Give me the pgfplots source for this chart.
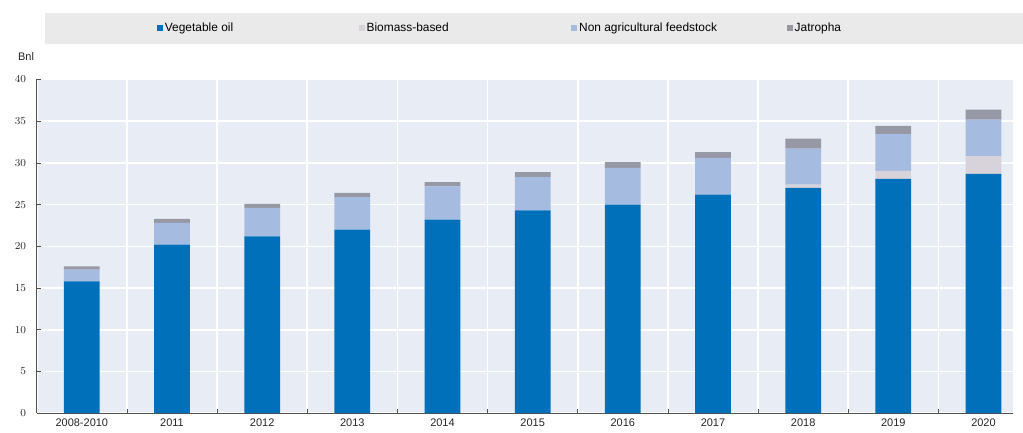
\documentclass[border=0pt]{standalone}
\usepackage{fontspec}
\setmainfont{Liberation Sans}
\usepackage{pgfplots}
\pgfplotsset{compat=1.18}
\definecolor{veg}{RGB}{0,112,186}
\definecolor{bio}{RGB}{216,210,218}
\definecolor{nonag}{RGB}{166,187,224}
\definecolor{jat}{RGB}{150,153,165}
\definecolor{bgc}{RGB}{232,236,245}
\definecolor{legbg}{RGB}{234,234,234}
\definecolor{axc}{RGB}{80,80,80}
\pgfplotstableread{
x veg bio nonag jat
0 15.8 0.0 1.4 0.4
1 20.2 0.0 2.6 0.5
2 21.2 0.0 3.4 0.5
3 22.0 0.0 3.9 0.5
4 23.2 0.0 4.0 0.5
5 24.3 0.0 4.0 0.6
6 25.0 0.0 4.4 0.7
7 26.2 0.0 4.4 0.7
8 27.0 0.4 4.3 1.2
9 28.1 0.95 4.4 1.0
10 28.7 2.1 4.4 1.2
}\datatab
\begin{document}
\begin{tikzpicture}
\begin{axis}[
  scale only axis, width=737.25pt, height=252pt,
  xmin=-0.5, xmax=10.33, ymin=0, ymax=40,
  ybar stacked, bar width=27pt,
  clip=false,
  axis background/.style={fill=bgc},
  axis x line*=bottom, axis y line*=left,
  axis line style={draw=axc, line width=0.7pt, -},
  xtick={0,...,10},
  xticklabels={2008-2010,2011,2012,2013,2014,2015,2016,2017,2018,2019,2020},
  major x tick style={draw=none},
  minor xtick={-0.5,0.5,...,10.5},
  minor x tick style={draw=axc, line width=0.6pt},
  minor tick length=3.5pt,
  xminorgrids, minor x grid style={white, line width=1.2pt},
  ytick={0,5,...,40},
  ymajorgrids, major y grid style={white, line width=1.2pt},
  major y tick style={draw=axc, line width=0.6pt},
  major tick length=3pt,
  tick align=inside,
  tick label style={font=\fontsize{8.3}{10}\selectfont, text=black!85},
  yticklabel style={xshift=-4.5pt},
  xticklabel style={yshift=-1pt},
  legend columns=4,
  legend style={at={(rel axis cs:0.123,1.153)}, anchor=west, draw=none, fill=none,
    inner xsep=0pt, inner ysep=0pt, nodes={inner xsep=1.5pt},
    font=\fontsize{9}{11}\selectfont},
  legend image code/.code={\fill[#1] (0pt,-2.2pt) rectangle (4.4pt,2.2pt);},
]
\fill[legbg] (rel axis cs:0.008,1.107) rectangle (rel axis cs:1.01,1.199);
\node[font=\fontsize{8.3}{10}\selectfont, text=black!85] at (rel axis cs:-0.011,1.068) {Bnl};
\addplot[fill=veg, draw=none] table[x=x, y=veg] {\datatab};
\addlegendentry{\makebox[144.85pt][l]{Vegetable oil}}
\addplot[fill=bio, draw=none] table[x=x, y=bio] {\datatab};
\addlegendentry{\makebox[153.1pt][l]{Biomass-based}}
\addplot[fill=nonag, draw=none] table[x=x, y=nonag] {\datatab};
\addlegendentry{\makebox[155.35pt][l]{Non agricultural feedstock}}
\addplot[fill=jat, draw=none] table[x=x, y=jat] {\datatab};
\addlegendentry{Jatropha}
\end{axis}
\path[use as bounding box] ([shift={(-27.75pt,-14.25pt)}]current axis.south west) rectangle ([shift={(2.25pt,60pt)}]current axis.north east);
\end{tikzpicture}
\end{document}
